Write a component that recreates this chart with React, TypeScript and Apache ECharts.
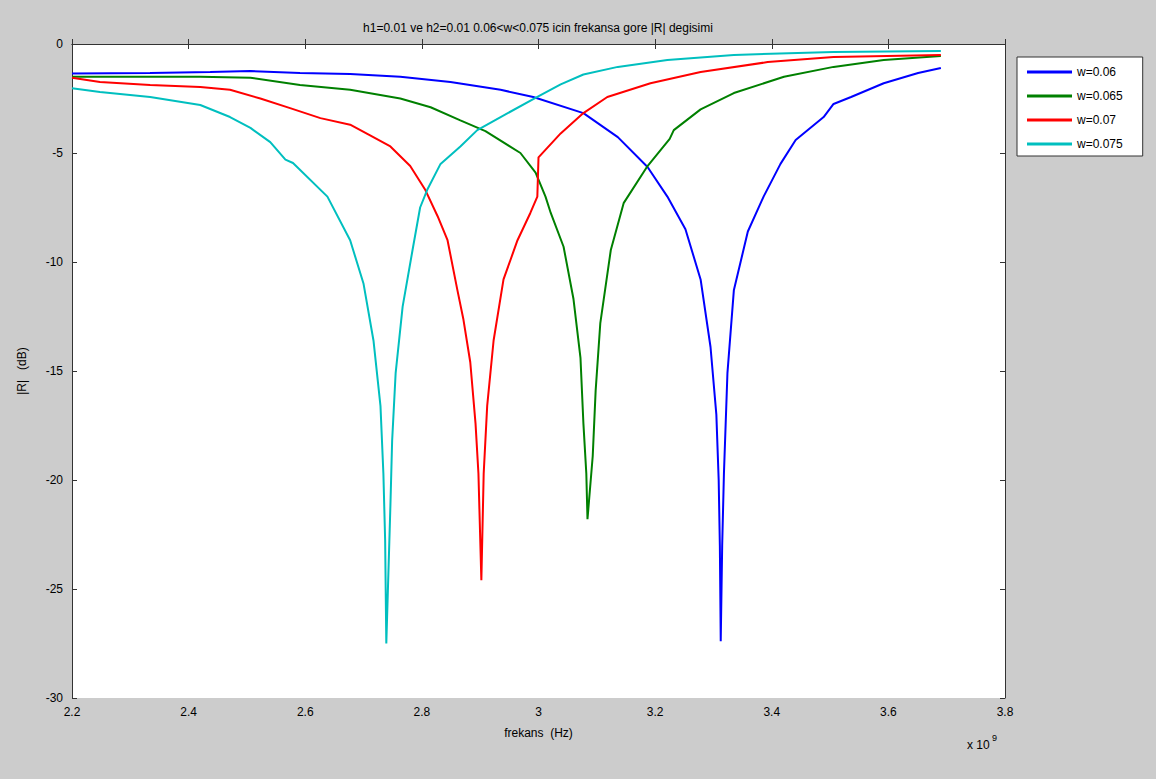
import React, { useEffect, useRef } from "react";
import * as echarts from "echarts";

const seriesNames = ["w=0.06", "w=0.065", "w=0.07", "w=0.075"];
const xTicks = [2.2, 3.8, 0.2];
const yTicks = [-30, 0, 5];

const freqBlue = [2.2, 2.334, 2.437, 2.506, 2.591, 2.677, 2.763, 2.849, 2.935, 2.991, 3.077, 3.136, 3.187, 3.221, 3.252, 3.278, 3.295, 3.305, 3.309, 3.311, 3.3125, 3.315, 3.318, 3.324, 3.335, 3.359, 3.386, 3.415, 3.441, 3.489, 3.506, 3.536, 3.592, 3.651, 3.69];
const dbBlue = [-1.35, -1.33, -1.28, -1.24, -1.33, -1.38, -1.5, -1.74, -2.1, -2.43, -3.17, -4.27, -5.64, -7.0, -8.5, -10.8, -13.9, -17.0, -20.0, -23.0, -27.4, -23.0, -19.7, -15.1, -11.3, -8.6, -7.0, -5.5, -4.4, -3.35, -2.75, -2.43, -1.8, -1.33, -1.1];

const freqGreen = [2.2, 2.42, 2.506, 2.591, 2.677, 2.763, 2.815, 2.866, 2.909, 2.969, 2.995, 3.012, 3.021, 3.043, 3.06, 3.072, 3.077, 3.082, 3.084, 3.093, 3.098, 3.106, 3.124, 3.146, 3.187, 3.225, 3.232, 3.278, 3.335, 3.421, 3.506, 3.592, 3.69];
const dbGreen = [-1.5, -1.5, -1.55, -1.88, -2.1, -2.5, -2.9, -3.5, -4.0, -5.0, -5.9, -7.0, -7.75, -9.3, -11.7, -14.4, -17.4, -19.7, -21.8, -18.9, -15.9, -12.8, -9.45, -7.3, -5.6, -4.35, -3.95, -3.0, -2.25, -1.5, -1.05, -0.73, -0.55];

const freqRed = [2.2, 2.248, 2.334, 2.42, 2.471, 2.523, 2.574, 2.626, 2.677, 2.712, 2.746, 2.78, 2.806, 2.827, 2.844, 2.861, 2.871, 2.883, 2.892, 2.897, 2.902, 2.906, 2.912, 2.923, 2.94, 2.964, 2.986, 2.998, 3.0, 3.038, 3.077, 3.118, 3.192, 3.278, 3.393, 3.506, 3.69];
const dbRed = [-1.55, -1.74, -1.88, -1.97, -2.1, -2.5, -2.94, -3.4, -3.7, -4.2, -4.7, -5.6, -6.7, -7.9, -9.0, -11.3, -12.6, -14.6, -17.4, -19.7, -24.6, -19.7, -16.6, -13.6, -10.8, -9.0, -7.75, -7.0, -5.2, -4.1, -3.17, -2.43, -1.8, -1.28, -0.83, -0.6, -0.5];

const freqCyan = [2.2, 2.248, 2.334, 2.42, 2.471, 2.506, 2.54, 2.566, 2.579, 2.638, 2.677, 2.7, 2.717, 2.729, 2.734, 2.737, 2.739, 2.746, 2.749, 2.755, 2.767, 2.784, 2.797, 2.809, 2.832, 2.866, 2.895, 2.935, 2.998, 3.038, 3.077, 3.136, 3.221, 3.335, 3.506, 3.69];
const dbCyan = [-2.03, -2.2, -2.43, -2.8, -3.35, -3.85, -4.5, -5.3, -5.46, -7.0, -9.0, -11.0, -13.6, -16.6, -19.7, -22.75, -27.5, -21.2, -18.2, -15.1, -12.05, -9.45, -7.5, -6.7, -5.5, -4.7, -3.95, -3.35, -2.43, -1.85, -1.4, -1.05, -0.73, -0.5, -0.37, -0.32];

const colors = ["#0000ff", "#008000", "#ff0000", "#00bfbf"];
const FONT = "'Liberation Sans', Arial, Helvetica, sans-serif";

function pairs(xs: number[], ys: number[]) {
  return xs.map((x, i) => [x, ys[i]]);
}

export default function App() {
  const ref = useRef<HTMLDivElement>(null);
  useEffect(() => {
    if (!ref.current) return;
    const chart = echarts.init(ref.current, null, { renderer: "svg" });
    const fmtX = (v: number) => String(Math.round(v * 10) / 10);
    const axisCommon = {
      axisLine: { show: true, lineStyle: { color: "#333", width: 1 } },
      axisTick: { show: true, inside: true, length: 5, lineStyle: { color: "#333" } },
      splitLine: { show: false },
    };
    const datasets = [
      pairs(freqBlue, dbBlue),
      pairs(freqGreen, dbGreen),
      pairs(freqRed, dbRed),
      pairs(freqCyan, dbCyan),
    ];
    chart.setOption({
      animation: false,
      backgroundColor: "#cccccc",
      textStyle: { fontFamily: FONT },
      grid: {
        left: 72,
        top: 44,
        right: 151,
        bottom: 81,
        show: true,
        backgroundColor: "#ffffff",
        borderColor: "#333",
        borderWidth: 0,
      },
      xAxis: [
        {
          type: "value",
          min: xTicks[0],
          max: xTicks[1],
          interval: xTicks[2],
          position: "bottom",
          ...axisCommon,
          axisLabel: { color: "#000", fontSize: 12, fontFamily: FONT, margin: 8, formatter: fmtX },
          name: "frekans  (Hz)",
          nameLocation: "middle",
          nameGap: 29,
          nameTextStyle: { color: "#000", fontSize: 12, fontFamily: FONT },
        },
        {
          type: "value",
          min: xTicks[0],
          max: xTicks[1],
          interval: xTicks[2],
          position: "top",
          ...axisCommon,
          axisLabel: { show: false },
        },
      ],
      yAxis: [
        {
          type: "value",
          min: yTicks[0],
          max: yTicks[1],
          interval: yTicks[2],
          position: "left",
          ...axisCommon,
          axisLabel: { color: "#000", fontSize: 12, fontFamily: FONT, margin: 9 },
          name: "|R|   (dB)",
          nameLocation: "middle",
          nameRotate: 90,
          nameGap: 44,
          nameTextStyle: { color: "#000", fontSize: 12, fontFamily: FONT },
        },
        {
          type: "value",
          min: yTicks[0],
          max: yTicks[1],
          interval: yTicks[2],
          position: "right",
          ...axisCommon,
          axisLabel: { show: false },
        },
      ],
      legend: {
        orient: "vertical",
        left: 1017,
        top: 57,
        padding: [8, 20, 5, 10],
        itemWidth: 45,
        itemHeight: 3,
        itemGap: 10,
        icon: "rect",
        backgroundColor: "#ffffff",
        borderColor: "#333",
        borderWidth: 1,
        borderRadius: 0,
        textStyle: { color: "#000", fontSize: 12, fontFamily: FONT, lineHeight: 14 },
        data: seriesNames,
      },
      graphic: [
        {
          type: "text",
          x: 538,
          y: 28,
          style: {
            text: "h1=0.01 ve h2=0.01 0.06<w<0.075 icin frekansa gore |R| degisimi",
            fill: "#000",
            font: `12px ${FONT}`,
            textAlign: "center",
            textVerticalAlign: "middle",
          },
        },
        {
          type: "text",
          x: 967,
          y: 745,
          style: { text: "x 10", fill: "#000", font: `12px ${FONT}`, textVerticalAlign: "middle" },
        },
        {
          type: "text",
          x: 992,
          y: 738,
          style: { text: "9", fill: "#000", font: `9px ${FONT}`, textVerticalAlign: "middle" },
        },
      ],
      series: datasets.map((d, i) => ({
        name: seriesNames[i],
        type: "line",
        data: d,
        showSymbol: false,
        symbol: "none",
        color: colors[i],
        lineStyle: { width: 2, color: colors[i] },
        xAxisIndex: 0,
        yAxisIndex: 0,
      })),
    });
    return () => chart.dispose();
  }, []);
  return (
    <div
      ref={ref}
      style={{ position: "fixed", left: 0, top: 0, width: 1156, height: 779 }}
    />
  );
}
